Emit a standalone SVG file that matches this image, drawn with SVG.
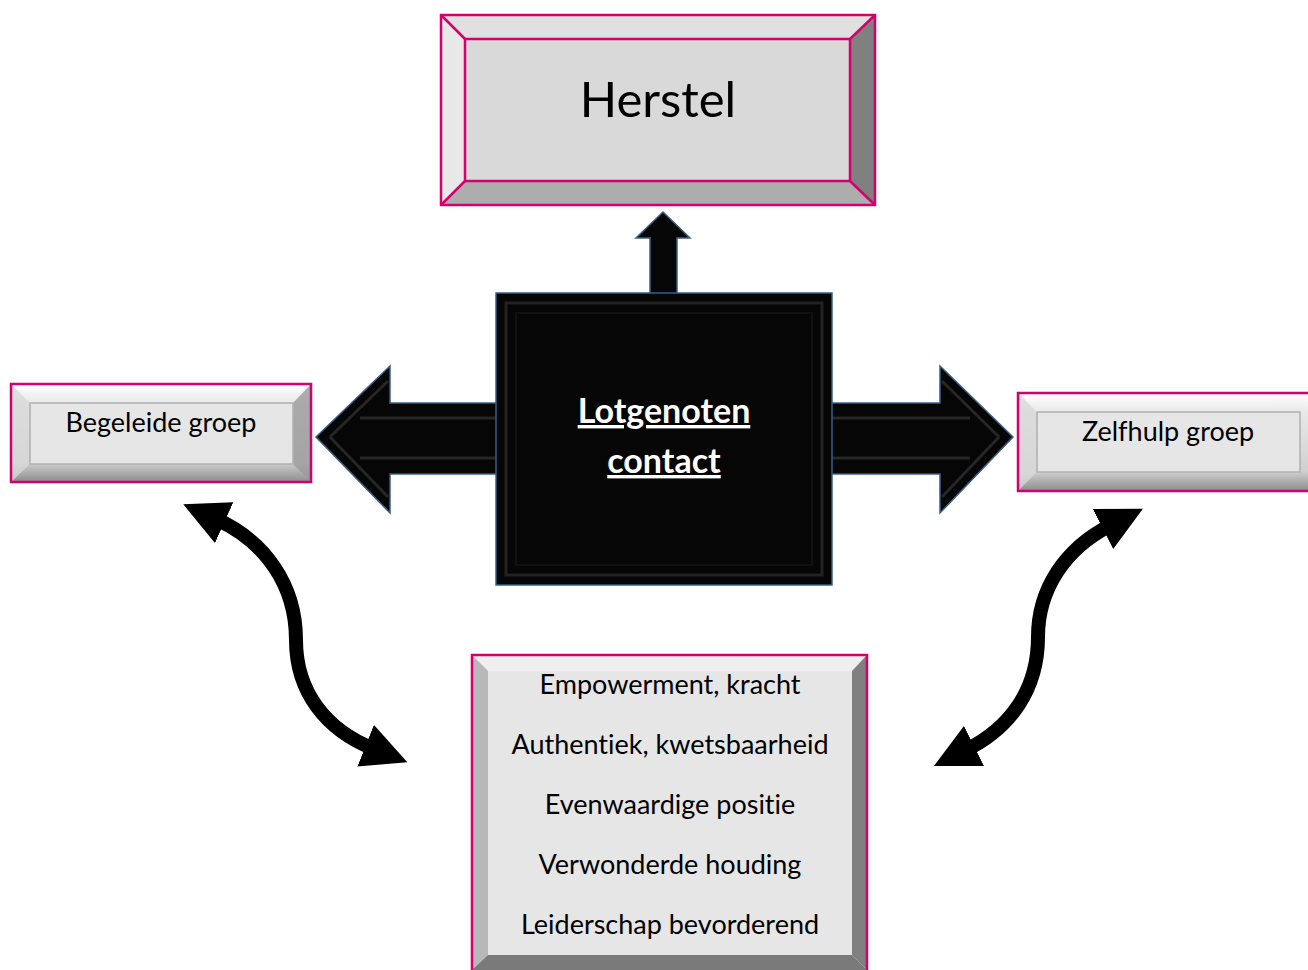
<svg xmlns="http://www.w3.org/2000/svg" width="1308" height="970" viewBox="0 0 1308 970">
<defs>
<style>
.t{font-family:Lato,"Liberation Sans",sans-serif;fill:#000;text-anchor:middle;font-variant-ligatures:none;font-feature-settings:"liga" 0}
.pk{fill:none;stroke:#d4006c;stroke-width:2.5}
.blk{fill:#060606;stroke:#3b5f86;stroke-width:1.5}
.cur{fill:none;stroke:#000;stroke-width:14}
</style>
<linearGradient id="sideV" x1="0" y1="0" x2="0" y2="1">
<stop offset="0" stop-color="#ffffff"/><stop offset="0.2" stop-color="#e8e8e8"/><stop offset="0.8" stop-color="#d0d0d0"/><stop offset="1" stop-color="#8c8c8c"/>
</linearGradient>
<marker id="ah" viewBox="0 0 10 10" refX="2" refY="5" markerWidth="3.2" markerHeight="3.2" orient="auto-start-reverse" markerUnits="strokeWidth">
<path d="M0,0 L10,5 L0,10 z" fill="#000"/>
</marker>
</defs>
<rect width="1308" height="970" fill="#fff"/>

<g id="herstel">
<rect x="441" y="15" width="434" height="190" fill="#d9d9d9"/>
<polygon points="441,15 875,15 850,39 465,39" fill="#e0e0e0"/>
<polygon points="441,15 465,39 465,181 441,205" fill="#e8e8e8"/>
<polygon points="875,15 850,39 850,181 875,205" fill="#808080"/>
<polygon points="441,205 465,181 850,181 875,205" fill="#adadad"/>
<g stroke="#d4006c" stroke-width="2.5" fill="none">
<rect x="441" y="15" width="434" height="190"/>
<rect x="465" y="39" width="385" height="142"/>
<line x1="441" y1="15" x2="465" y2="39"/><line x1="875" y1="15" x2="850" y2="39"/>
<line x1="441" y1="205" x2="465" y2="181"/><line x1="875" y1="205" x2="850" y2="181"/>
</g>
<text class="t" x="658" y="117" font-size="49">Herstel</text>
</g>

<g id="connectors">
<polygon class="blk" points="663,212 690,238 677,238 677,296 650,296 650,238 636,238"/>
<polygon class="blk" points="316,437 390,366 390,403 500,403 500,474 390,474 390,513"/>
<polygon class="blk" points="1013,437 940,366 940,403 828,403 828,474 940,474 940,513"/>
<g stroke="#262626" stroke-width="3" fill="none" stroke-linejoin="round">
<polyline points="330,437 388,381"/>
<polyline points="330,437 388,497"/>
<line x1="360" y1="418" x2="515" y2="418"/>
<line x1="360" y1="458" x2="515" y2="458"/>
<polyline points="999,437 942,381"/>
<polyline points="999,437 942,497"/>
<line x1="815" y1="418" x2="970" y2="418"/>
<line x1="815" y1="458" x2="970" y2="458"/>
</g>
<path class="cur" d="M 216 519 C 265 541, 296 585, 296 640 C 296 692, 326 730, 374 749" marker-start="url(#ah)" marker-end="url(#ah)"/>
<path class="cur" d="M 1111 525 C 1064 549, 1038 590, 1038 637 C 1038 690, 1010 728, 966 750" marker-start="url(#ah)" marker-end="url(#ah)"/>
</g>

<g id="lotgenoten">
<rect class="blk" x="496" y="293" width="336" height="292"/>
<rect x="506" y="303" width="316" height="272" fill="none" stroke="#222" stroke-width="3"/>
<rect x="516" y="313" width="296" height="252" fill="none" stroke="#161616" stroke-width="1.5"/>
<text class="t" x="664" y="423" font-size="34" font-weight="bold" style="fill:#fff;text-decoration:underline">Lotgenoten</text>
<text class="t" x="664" y="473" font-size="34" font-weight="bold" style="fill:#fff;text-decoration:underline">contact</text>
</g>

<g id="begeleide">
<rect x="11" y="384" width="300" height="98" fill="url(#sideV)"/>
<polygon points="11,384 30,403 30,464 11,482" fill="#d8d8d8" opacity="0.8"/>
<polygon points="311,384 293,403 293,464 311,482" fill="#9a9a9a" opacity="0.8"/>
<rect x="30" y="403" width="263" height="61" fill="#e6e6e6" stroke="#b0b0b0" stroke-width="1.5"/>
<rect x="11" y="384" width="300" height="98" class="pk"/>
<text class="t" x="161" y="432" font-size="27">Begeleide groep</text>
</g>

<g id="zelfhulp">
<rect x="1018" y="393" width="292" height="98" fill="url(#sideV)"/>
<polygon points="1018,393 1037,412 1037,472 1018,491" fill="#d8d8d8" opacity="0.8"/>
<rect x="1037" y="412" width="263" height="60" fill="#e6e6e6" stroke="#b0b0b0" stroke-width="1.5"/>
<rect x="1018" y="393" width="292" height="98" class="pk"/>
<text class="t" x="1168" y="441" font-size="27">Zelfhulp groep</text>
</g>

<g id="kenmerken">
<rect x="472" y="655" width="395" height="320" fill="#e6e6e6"/>
<polygon points="472,655 867,655 852,671 488,671" fill="#efefef"/>
<polygon points="472,655 488,671 488,955 472,970" fill="#b8b8b8"/>
<polygon points="867,655 852,671 852,955 867,970" fill="#808080"/>
<polygon points="472,970 488,955 852,955 867,970" fill="#7a7a7a"/>
<rect x="472" y="655" width="395" height="320" class="pk"/>
<text class="t" x="670" y="694" font-size="27">Empowerment, kracht</text>
<text class="t" x="670" y="754" font-size="27">Authentiek, kwetsbaarheid</text>
<text class="t" x="670" y="814" font-size="27">Evenwaardige positie</text>
<text class="t" x="670" y="874" font-size="27">Verwonderde houding</text>
<text class="t" x="670" y="934" font-size="27">Leiderschap bevorderend</text>
</g>
</svg>
